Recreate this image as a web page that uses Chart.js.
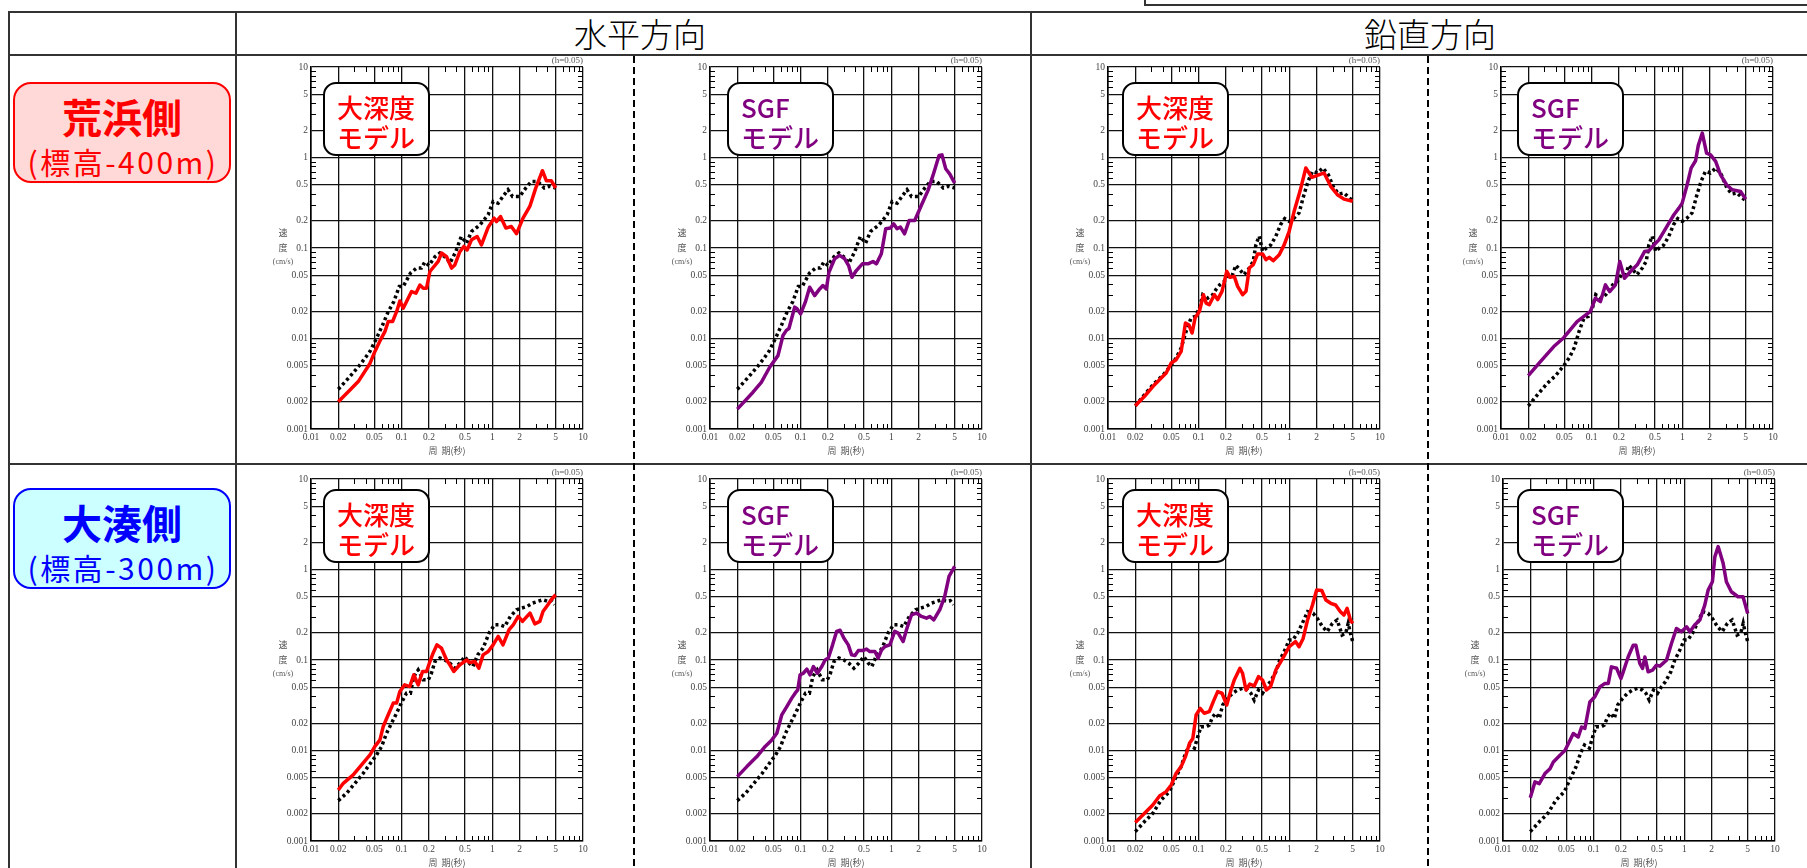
<!DOCTYPE html>
<html lang="ja">
<head>
<meta charset="utf-8">
<title>応答スペクトル比較</title>
<script src="https://cdn.jsdelivr.net/npm/chart.js@4"></script>
<style>
  html, body { margin: 0; padding: 0; background: #fff; }
  body { width: 1807px; height: 868px; position: relative; overflow: hidden;
         font-family: "Noto Sans CJK JP", "Noto Sans", sans-serif; }
  .ln { position: absolute; background: #333; }
  .dash { position: absolute; width: 2px;
          background: repeating-linear-gradient(to bottom, #000 0 7px, transparent 7px 11px); }
  .head { position: absolute; top: 11px; height: 44px; line-height: 44px; font-size: 33px;
          font-weight: 300; color: #000; transform: translateX(-50%); white-space: nowrap; }
  .site { position: absolute; left: 13px; width: 218px; height: 101px; box-sizing: border-box;
          border: 2.5px solid; border-radius: 18px; text-align: center; padding-top: 10px; }
  .site .nm { font-size: 40px; font-weight: 700; line-height: 44px; }
  .site .el { font-size: 30px; line-height: 34px; margin-top: 6px; letter-spacing: 2.5px;
              margin-left: 2px; white-space: nowrap; }
  .tag { position: absolute; width: 107px; height: 74px; box-sizing: border-box; background: #fff;
         border: 2px solid #000; border-radius: 13px; padding: 8px 0 0 12px;
         font-size: 26px; font-weight: 500; line-height: 30px; white-space: nowrap; }
  canvas { position: absolute; }
</style>
</head>
<body>

<!-- table frame -->
<div class="ln" style="left:1144px; top:4px; width:700px; height:2px;"></div>
<div class="ln" style="left:1144px; top:0; width:2px; height:5px;"></div>
<div class="ln" style="left:8px; top:11px; width:1820px; height:2px;"></div>
<div class="ln" style="left:8px; top:54px; width:1820px; height:2px;"></div>
<div class="ln" style="left:8px; top:463px; width:1820px; height:2px;"></div>
<div class="ln" style="left:8px; top:11px; width:2px; height:870px;"></div>
<div class="ln" style="left:235px; top:11px; width:2px; height:870px;"></div>
<div class="ln" style="left:1030px; top:11px; width:2px; height:870px;"></div>
<div class="dash" style="left:633px; top:56px; height:820px;"></div>
<div class="dash" style="left:1427px; top:56px; height:820px;"></div>

<div class="head" style="left:640px;">水平方向</div>
<div class="head" style="left:1430px;">鉛直方向</div>

<div class="site" style="top:82px; border-color:#ff0000; background:#ffd8d8; color:#ff0000;">
  <div class="nm">荒浜側</div><div class="el">(標高-400m)</div>
</div>
<div class="site" style="top:488px; border-color:#0000ff; background:#ccffff; color:#0000ff;">
  <div class="nm">大湊側</div><div class="el">(標高-300m)</div>
</div>

<canvas id="c1"></canvas><canvas id="c2"></canvas><canvas id="c3"></canvas><canvas id="c4"></canvas>
<canvas id="c5"></canvas><canvas id="c6"></canvas><canvas id="c7"></canvas><canvas id="c8"></canvas>

<div class="tag" style="left:323px; top:82px; color:#ff0000;">大深度<br>モデル</div>
<div class="tag" style="left:727px; top:82px; color:#800080;">SGF<br>モデル</div>
<div class="tag" style="left:1122px; top:82px; color:#ff0000;">大深度<br>モデル</div>
<div class="tag" style="left:1517px; top:82px; color:#800080;">SGF<br>モデル</div>
<div class="tag" style="left:323px; top:489px; color:#ff0000;">大深度<br>モデル</div>
<div class="tag" style="left:727px; top:489px; color:#800080;">SGF<br>モデル</div>
<div class="tag" style="left:1122px; top:489px; color:#ff0000;">大深度<br>モデル</div>
<div class="tag" style="left:1517px; top:489px; color:#800080;">SGF<br>モデル</div>

<script>
// axis ticks
const periodTicks = [0.01, 0.02, 0.05, 0.1, 0.2, 0.5, 1, 2, 5, 10];
const periodTickLabels = ['0.01', '0.02', '0.05', '0.1', '0.2', '0.5', '1', '2', '5', '10'];
const velTicks = [0.001, 0.002, 0.005, 0.01, 0.02, 0.05, 0.1, 0.2, 0.5, 1, 2, 5, 10];
const velTickLabels = ['0.001', '0.002', '0.005', '0.01', '0.02', '0.05', '0.1', '0.2', '0.5', '1', '2', '5', '10'];
const minorMult = [3, 4, 6, 7, 8, 9];

// [period (s), velocity (cm/s)]
// 荒浜側 水平
const araHObs = [[0.02,0.00275],[0.0269,0.0038],[0.0346,0.0051],[0.0447,0.0072],[0.0529,0.0101],[0.0616,0.0141],[0.0711,0.0198],[0.082,0.0256],[0.094,0.0375],[0.104,0.0375],[0.125,0.0527],[0.146,0.06],[0.165,0.06],[0.18,0.07],[0.2,0.064],[0.233,0.08],[0.264,0.088],[0.313,0.077],[0.34,0.068],[0.395,0.091],[0.454,0.134],[0.52,0.113],[0.589,0.152],[0.729,0.18],[0.899,0.233],[1.02,0.327],[1.16,0.313],[1.31,0.371],[1.49,0.44],[1.67,0.37],[2.0,0.37],[2.34,0.46],[2.7,0.543],[3.17,0.543],[3.74,0.46],[4.28,0.48],[5.0,0.46]];
const araHDeep = [[0.02,0.002],[0.0269,0.0027],[0.0332,0.00334],[0.0447,0.0053],[0.0507,0.0072],[0.0576,0.0094],[0.0653,0.0119],[0.0711,0.0154],[0.0794,0.0154],[0.0879,0.0198],[0.0955,0.026],[0.104,0.0216],[0.1285,0.033],[0.1436,0.0317],[0.159,0.039],[0.173,0.036],[0.188,0.036],[0.205,0.055],[0.253,0.071],[0.275,0.088],[0.313,0.08],[0.355,0.06],[0.386,0.065],[0.438,0.091],[0.485,0.104],[0.527,0.095],[0.589,0.123],[0.68,0.134],[0.759,0.108],[0.899,0.169],[1.047,0.214],[1.11,0.196],[1.23,0.223],[1.41,0.166],[1.62,0.173],[1.85,0.144],[2.18,0.214],[2.59,0.288],[3.01,0.459],[3.57,0.714],[3.95,0.553],[4.48,0.553],[5.0,0.46]];
const araHSgf = [[0.02,0.00166],[0.0298,0.00255],[0.0368,0.00328],[0.0455,0.00481],[0.0562,0.00647],[0.0638,0.0108],[0.0695,0.0123],[0.0743,0.0129],[0.0859,0.0222],[0.0912,0.0213],[0.1,0.0187],[0.1125,0.0252],[0.1257,0.0369],[0.1426,0.0298],[0.162,0.0353],[0.176,0.0385],[0.192,0.0353],[0.205,0.054],[0.237,0.076],[0.269,0.083],[0.306,0.076],[0.338,0.064],[0.368,0.0475],[0.411,0.0563],[0.479,0.0668],[0.553,0.0668],[0.628,0.071],[0.684,0.0668],[0.776,0.0863],[0.867,0.163],[0.977,0.166],[1.06,0.185],[1.156,0.163],[1.26,0.17],[1.4,0.1435],[1.57,0.201],[1.81,0.201],[2.14,0.295],[2.54,0.433],[2.88,0.634],[3.36,1.054],[3.62,1.07],[3.98,0.751],[4.4,0.66],[5.0,0.521]];

// 荒浜側 鉛直
const araVObs = [[0.02,0.0018],[0.0253,0.0024],[0.0326,0.00322],[0.0402,0.0039],[0.0498,0.0051],[0.0565,0.0061],[0.0641,0.00786],[0.0727,0.012],[0.0825,0.0169],[0.0922,0.0176],[0.102,0.0217],[0.111,0.0305],[0.126,0.028],[0.143,0.0305],[0.155,0.0347],[0.172,0.0394],[0.192,0.0429],[0.213,0.0507],[0.236,0.0507],[0.257,0.0643],[0.285,0.0577],[0.316,0.0507],[0.362,0.0601],[0.4,0.0713],[0.428,0.109],[0.465,0.135],[0.507,0.0918],[0.559,0.1],[0.62,0.107],[0.71,0.135],[0.8,0.181],[0.89,0.211],[0.996,0.197],[1.13,0.215],[1.28,0.244],[1.45,0.388],[1.61,0.545],[1.8,0.703],[2.04,0.675],[2.35,0.766],[2.69,0.646],[3.1,0.46],[3.52,0.395],[4.01,0.406],[4.58,0.357],[5.0,0.333]];
const araVDeep = [[0.02,0.00181],[0.0253,0.0023],[0.0326,0.00309],[0.0438,0.00416],[0.0498,0.00536],[0.0565,0.00583],[0.0641,0.0072],[0.0715,0.0148],[0.0778,0.0142],[0.0847,0.0115],[0.0914,0.0169],[0.102,0.02],[0.113,0.0305],[0.121,0.0246],[0.131,0.0236],[0.149,0.0305],[0.162,0.0269],[0.181,0.0332],[0.204,0.0552],[0.222,0.0474],[0.247,0.0486],[0.269,0.0377],[0.305,0.0305],[0.333,0.0332],[0.362,0.0601],[0.4,0.0654],[0.447,0.0859],[0.507,0.0859],[0.552,0.0743],[0.601,0.0789],[0.664,0.0725],[0.774,0.0843],[0.879,0.109],[0.996,0.153],[1.13,0.254],[1.31,0.423],[1.52,0.766],[1.77,0.604],[2.04,0.635],[2.42,0.675],[2.86,0.48],[3.39,0.388],[4.01,0.347],[5.0,0.328]];
const araVSgf = [[0.02,0.00389],[0.0272,0.00556],[0.0382,0.00815],[0.0492,0.0102],[0.069,0.0154],[0.0969,0.0199],[0.11,0.0279],[0.125,0.0256],[0.142,0.0392],[0.158,0.033],[0.183,0.0392],[0.204,0.071],[0.23,0.0463],[0.268,0.055],[0.318,0.0652],[0.383,0.0914],[0.427,0.093],[0.485,0.108],[0.551,0.123],[0.625,0.152],[0.71,0.188],[0.807,0.233],[0.916,0.276],[0.996,0.313],[1.13,0.5],[1.25,0.764],[1.4,0.921],[1.5,1.36],[1.66,1.86],[1.85,1.12],[2.05,1.07],[2.33,0.905],[2.64,0.644],[3.08,0.5],[3.55,0.44],[4.39,0.422],[5.0,0.347]];

// 大湊側 水平
const omiHObs = [[0.02,0.00279],[0.0247,0.00337],[0.0305,0.00434],[0.0377,0.0056],[0.0466,0.00754],[0.0529,0.00894],[0.0601,0.0111],[0.0681,0.0155],[0.0772,0.02],[0.0879,0.0258],[0.099,0.0334],[0.113,0.043],[0.125,0.043],[0.136,0.0656],[0.152,0.0778],[0.173,0.0604],[0.197,0.0604],[0.213,0.0714],[0.233,0.0962],[0.264,0.105],[0.3,0.1],[0.34,0.0923],[0.386,0.0812],[0.438,0.0923],[0.497,0.109],[0.556,0.0923],[0.61,0.0847],[0.69,0.114],[0.79,0.135],[0.92,0.198],[1.06,0.245],[1.2,0.245],[1.37,0.234],[1.58,0.303],[1.85,0.359],[2.09,0.374],[2.42,0.39],[2.76,0.425],[3.17,0.444],[3.62,0.463],[4.1,0.444],[4.46,0.453],[4.86,0.408]];
const omiHDeep = [[0.02,0.00366],[0.0227,0.00434],[0.0292,0.00537],[0.0361,0.00693],[0.0447,0.00894],[0.0507,0.0111],[0.0576,0.0131],[0.0626,0.0184],[0.0711,0.0248],[0.0808,0.0334],[0.0879,0.0334],[0.0955,0.0449],[0.108,0.0531],[0.123,0.0509],[0.136,0.0686],[0.152,0.0531],[0.17,0.0747],[0.188,0.0747],[0.205,0.0962],[0.222,0.119],[0.245,0.147],[0.275,0.135],[0.313,0.1],[0.34,0.0885],[0.375,0.0747],[0.438,0.0885],[0.52,0.1],[0.565,0.0938],[0.64,0.0962],[0.71,0.0812],[0.79,0.114],[0.9,0.124],[1.02,0.147],[1.16,0.182],[1.31,0.147],[1.53,0.216],[1.7,0.245],[1.93,0.303],[2.15,0.267],[2.6,0.33],[2.94,0.251],[3.34,0.267],[3.62,0.344],[4.1,0.408],[4.46,0.463],[5.0,0.526]];
const omiHSgf = [[0.02,0.00514],[0.0255,0.00664],[0.0329,0.00857],[0.0406,0.0111],[0.0481,0.0131],[0.0546,0.0155],[0.0619,0.0248],[0.0703,0.0306],[0.0798,0.0379],[0.0869,0.043],[0.0929,0.0468],[0.0986,0.0686],[0.107,0.0714],[0.117,0.0792],[0.127,0.0686],[0.138,0.0847],[0.153,0.0714],[0.171,0.0847],[0.186,0.1],[0.202,0.105],[0.225,0.147],[0.249,0.207],[0.272,0.213],[0.3,0.174],[0.335,0.147],[0.365,0.114],[0.397,0.112],[0.432,0.127],[0.482,0.127],[0.533,0.132],[0.58,0.124],[0.659,0.124],[0.716,0.105],[0.78,0.129],[0.849,0.141],[0.963,0.147],[1.09,0.207],[1.19,0.198],[1.35,0.16],[1.47,0.216],[1.67,0.316],[1.89,0.33],[2.15,0.303],[2.44,0.29],[2.65,0.303],[2.94,0.278],[3.42,0.359],[3.88,0.504],[4.33,0.839],[5.0,1.08]];

// 大湊側 鉛直
const omiVObs = [[0.02,0.00127],[0.0253,0.00164],[0.0312,0.00202],[0.0385,0.00284],[0.0476,0.00351],[0.0565,0.00514],[0.0641,0.00663],[0.0715,0.00931],[0.0792,0.0115],[0.0898,0.0106],[0.0977,0.0142],[0.106,0.0183],[0.121,0.0183],[0.131,0.0191],[0.143,0.0237],[0.155,0.0258],[0.169,0.0226],[0.184,0.0318],[0.209,0.0377],[0.236,0.0429],[0.269,0.0466],[0.305,0.0486],[0.346,0.0466],[0.377,0.0429],[0.41,0.0361],[0.457,0.0466],[0.506,0.0429],[0.559,0.0507],[0.62,0.0577],[0.71,0.0743],[0.785,0.1],[0.877,0.124],[0.996,0.166],[1.09,0.166],[1.23,0.197],[1.39,0.254],[1.59,0.342],[1.83,0.328],[2.04,0.288],[2.32,0.233],[2.62,0.206],[2.98,0.254],[3.37,0.277],[3.82,0.189],[4.18,0.197],[4.46,0.254],[4.72,0.197],[5.0,0.16]];
const omiVDeep = [[0.02,0.0016],[0.0253,0.00202],[0.0312,0.0025],[0.037,0.00314],[0.0438,0.00351],[0.0498,0.00416],[0.0565,0.0056],[0.0641,0.00663],[0.0715,0.00855],[0.0792,0.012],[0.0862,0.0136],[0.0937,0.0247],[0.104,0.0292],[0.115,0.0258],[0.131,0.0269],[0.145,0.0347],[0.162,0.0447],[0.181,0.0429],[0.204,0.0318],[0.227,0.0466],[0.247,0.0601],[0.285,0.0809],[0.305,0.0713],[0.333,0.0466],[0.367,0.0543],[0.41,0.0516],[0.457,0.0654],[0.506,0.0601],[0.559,0.0466],[0.62,0.0507],[0.71,0.0776],[0.785,0.0918],[0.877,0.111],[0.996,0.14],[1.17,0.16],[1.28,0.14],[1.42,0.173],[1.59,0.277],[1.8,0.405],[2.0,0.593],[2.28,0.586],[2.53,0.46],[2.86,0.423],[3.24,0.405],[3.66,0.342],[4.0,0.314],[4.34,0.372],[4.72,0.277],[5.0,0.254]];
const omiVSgf = [[0.02,0.00301],[0.0225,0.0045],[0.0251,0.0043],[0.029,0.00556],[0.033,0.0063],[0.0359,0.00748],[0.0425,0.00887],[0.0482,0.01],[0.0525,0.0119],[0.0596,0.0154],[0.0676,0.0141],[0.0736,0.0182],[0.08,0.0175],[0.0908,0.0344],[0.103,0.0392],[0.117,0.0505],[0.133,0.055],[0.145,0.055],[0.157,0.084],[0.179,0.081],[0.2,0.0624],[0.212,0.074],[0.24,0.108],[0.273,0.146],[0.292,0.146],[0.323,0.0914],[0.346,0.0805],[0.367,0.108],[0.399,0.074],[0.446,0.0773],[0.493,0.0877],[0.537,0.0855],[0.635,0.0995],[0.721,0.152],[0.818,0.223],[0.929,0.205],[1.06,0.233],[1.15,0.205],[1.3,0.243],[1.48,0.276],[1.68,0.404],[1.83,0.592],[2.04,0.733],[2.17,1.38],[2.36,1.79],[2.68,1.17],[2.91,0.733],[3.3,0.568],[3.91,0.5],[4.44,0.5],[5.0,0.327]];

const RED = '#ff0000';
const PURPLE = '#800080';

// plot-area position of each panel on the page
const panels = [
  { id: 'c1', model: araHDeep, obs: araHObs, color: RED,    left: 311,  top: 67 },
  { id: 'c2', model: araHSgf,  obs: araHObs, color: PURPLE, left: 710,  top: 67 },
  { id: 'c3', model: araVDeep, obs: araVObs, color: RED,    left: 1108, top: 67 },
  { id: 'c4', model: araVSgf,  obs: araVObs, color: PURPLE, left: 1501, top: 67 },
  { id: 'c5', model: omiHDeep, obs: omiHObs, color: RED,    left: 311,  top: 479 },
  { id: 'c6', model: omiHSgf,  obs: omiHObs, color: PURPLE, left: 710,  top: 479 },
  { id: 'c7', model: omiVDeep, obs: omiVObs, color: RED,    left: 1108, top: 479 },
  { id: 'c8', model: omiVSgf,  obs: omiVObs, color: PURPLE, left: 1503, top: 479 }
];

const PLOT_W = 272, PLOT_H = 362;
const PAD_L = 60, PAD_T = 20, PAD_R = 20, PAD_B = 40;

// minor tick marks inside the frame + small captions
const panelDecor = {
  id: 'panelDecor',
  beforeDatasetsDraw(chart) {
    const { ctx, chartArea: a, scales: { x, y } } = chart;
    ctx.save();
    ctx.strokeStyle = '#000';
    ctx.lineWidth = 1;
    ctx.beginPath();
    [0.01, 0.1, 1].forEach(d => minorMult.forEach(m => {
      const px = Math.round(x.getPixelForValue(d * m)) + 0.5;
      ctx.moveTo(px, a.bottom); ctx.lineTo(px, a.bottom - 5);
      ctx.moveTo(px, a.top); ctx.lineTo(px, a.top + 5);
    }));
    [0.001, 0.01, 0.1, 1].forEach(d => minorMult.forEach(m => {
      const py = Math.round(y.getPixelForValue(d * m)) + 0.5;
      ctx.moveTo(a.left, py); ctx.lineTo(a.left + 5, py);
      ctx.moveTo(a.right, py); ctx.lineTo(a.right - 5, py);
    }));
    ctx.stroke();

    ctx.fillStyle = '#555';
    ctx.font = '9px "Liberation Serif"';
    ctx.textAlign = 'right';
    ctx.textBaseline = 'bottom';
    ctx.fillText('(h=0.05)', a.right, a.top - 2);

    ctx.font = '9px "Noto Sans CJK JP"';
    ctx.textAlign = 'center';
    ctx.textBaseline = 'middle';
    const cx = (a.left + a.right) / 2;
    const cy = (a.top + a.bottom) / 2;
    ctx.fillText('周  期(秒)', cx, a.bottom + 22);
    ctx.fillText('速', a.left - 28, cy - 15);
    ctx.fillText('度', a.left - 28, cy);
    ctx.font = '8px "Liberation Serif"';
    ctx.fillText('(cm/s)', a.left - 28, cy + 14);
    ctx.restore();
  }
};

const tickFont = { family: 'Liberation Serif', size: 9.5 };

panels.forEach(p => {
  const cv = document.getElementById(p.id);
  cv.width = PLOT_W + PAD_L + PAD_R;
  cv.height = PLOT_H + PAD_T + PAD_B;
  cv.style.left = (p.left - PAD_L) + 'px';
  cv.style.top = (p.top - PAD_T) + 'px';

  new Chart(cv, {
    type: 'line',
    data: {
      datasets: [
        {
          label: 'model',
          data: p.model.map(d => ({ x: d[0], y: d[1] })),
          borderColor: p.color,
          borderWidth: 3.5,
          pointRadius: 0,
          tension: 0,
          borderJoinStyle: 'round'
        },
        {
          label: 'observed',
          data: p.obs.map(d => ({ x: d[0], y: d[1] })),
          borderColor: '#000',
          borderWidth: 3.5,
          borderDash: [3, 3],
          pointRadius: 0,
          tension: 0
        }
      ]
    },
    options: {
      responsive: false,
      animation: false,
      events: [],
      layout: { padding: { left: 0, top: PAD_T, right: PAD_R, bottom: 0 } },
      plugins: { legend: { display: false }, tooltip: { enabled: false } },
      scales: {
        x: {
          type: 'logarithmic',
          min: 0.01,
          max: 10,
          afterBuildTicks: s => { s.ticks = periodTicks.map(v => ({ value: v })); },
          afterFit: s => { s.height = PAD_B; s.paddingLeft = 0; s.paddingRight = 0; },
          ticks: {
            autoSkip: false, maxRotation: 0, padding: 3, color: '#444', font: tickFont,
            callback: (v, i) => periodTickLabels[i]
          },
          grid: { color: '#111', lineWidth: 1.3, drawTicks: false },
          border: { color: '#000', width: 1.6 }
        },
        y: {
          type: 'logarithmic',
          min: 0.001,
          max: 10,
          afterBuildTicks: s => { s.ticks = velTicks.map(v => ({ value: v })); },
          afterFit: s => { s.width = PAD_L; s.paddingTop = 0; s.paddingBottom = 0; },
          ticks: {
            autoSkip: false, padding: 3, color: '#444', font: tickFont,
            callback: (v, i) => velTickLabels[i]
          },
          grid: { color: '#111', lineWidth: 1.3, drawTicks: false },
          border: { color: '#000', width: 1.6 }
        }
      }
    },
    plugins: [panelDecor]
  });
});
</script>
</body>
</html>
